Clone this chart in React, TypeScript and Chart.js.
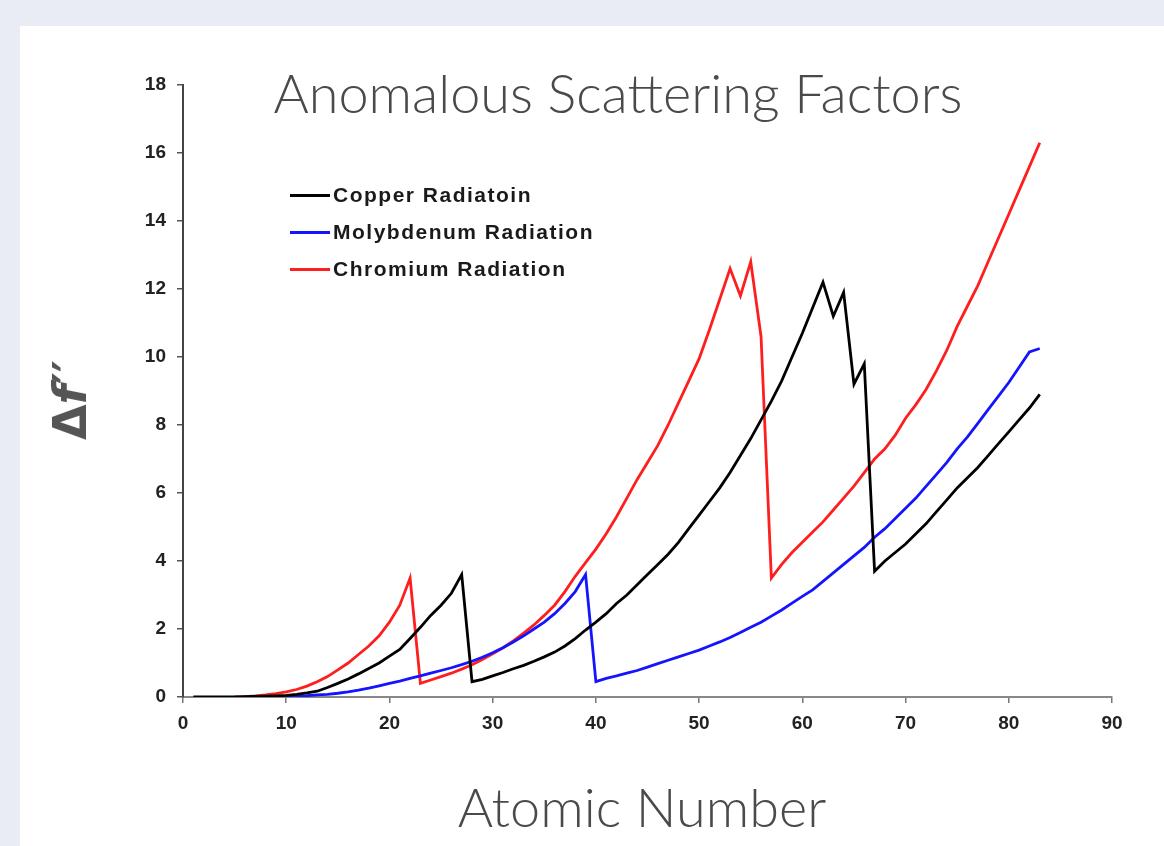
import React, { useEffect, useRef } from "react";
import { Chart, registerables } from "chart.js";

Chart.register(...registerables);

const atomicNumbers = [
  1, 2, 3, 4, 5, 6, 7, 8, 9, 10, 11, 12, 13, 14, 15, 16, 17, 18, 19, 20,
  21, 22, 23, 24, 25, 26, 27, 28, 29, 30, 31, 32, 33, 34, 35, 36, 37, 38, 39, 40,
  41, 42, 43, 44, 45, 46, 47, 48, 49, 50, 51, 52, 53, 54, 55, 56, 57, 58, 59, 60,
  61, 62, 63, 64, 65, 66, 67, 68, 69, 70, 71, 72, 73, 74, 75, 76, 77, 78, 79, 80,
  81, 82, 83,
];

const copper = [
  0, 0, 0, 0, 0.005, 0.01, 0.015, 0.025, 0.035, 0.05,
  0.08, 0.12, 0.17, 0.28, 0.4, 0.53, 0.68, 0.84, 1.0, 1.2,
  1.4, 1.72, 2.05, 2.4, 2.7, 3.05, 3.6, 0.45, 0.52, 0.62,
  0.72, 0.83, 0.93, 1.05, 1.18, 1.32, 1.5, 1.72, 1.97, 2.2,
  2.45, 2.75, 3.0, 3.3, 3.6, 3.9, 4.2, 4.55, 4.95, 5.35,
  5.75, 6.15, 6.6, 7.1, 7.6, 8.15, 8.7, 9.3, 10.0, 10.7,
  11.45, 12.2, 11.2, 11.9, 9.2, 9.8, 3.7, 4.0, 4.25, 4.5,
  4.8, 5.1, 5.45, 5.8, 6.15, 6.45, 6.75, 7.1, 7.45, 7.8,
  8.15, 8.5, 8.9,
];

const molybdenum = [
  null, null, null, null, null, null, null, 0, 0.01, 0.02,
  0.03, 0.04, 0.06, 0.08, 0.11, 0.15, 0.2, 0.26, 0.33, 0.4,
  0.47, 0.55, 0.62, 0.7, 0.78, 0.86, 0.95, 1.05, 1.17, 1.3,
  1.45, 1.62, 1.8, 2.0, 2.2, 2.45, 2.75, 3.1, 3.6, 0.45,
  0.55, 0.62, 0.7, 0.78, 0.88, 0.98, 1.08, 1.18, 1.28, 1.38,
  1.5, 1.62, 1.75, 1.9, 2.05, 2.2, 2.38, 2.56, 2.76, 2.96,
  3.15, 3.4, 3.65, 3.9, 4.15, 4.4, 4.7, 4.95, 5.25, 5.55,
  5.85, 6.2, 6.55, 6.9, 7.3, 7.65, 8.05, 8.45, 8.85, 9.25,
  9.7, 10.15, 10.25,
];

const chromium = [
  null, null, null, null, 0, 0.01, 0.03, 0.06, 0.1, 0.15,
  0.22, 0.32, 0.45, 0.6, 0.8, 1.0, 1.25, 1.5, 1.8, 2.2,
  2.7, 3.5, 0.4, 0.5, 0.6, 0.7, 0.82, 0.95, 1.1, 1.27,
  1.45, 1.65, 1.88, 2.12, 2.4, 2.7, 3.1, 3.55, 3.95, 4.35,
  4.8, 5.3, 5.85, 6.4, 6.9, 7.4, 8.0, 8.65, 9.3, 9.95,
  10.8, 11.7, 12.6, 11.8, 12.8, 10.6, 3.5, 3.9, 4.25, 4.55,
  4.85, 5.15, 5.5, 5.85, 6.2, 6.6, 7.0, 7.3, 7.7, 8.2,
  8.6, 9.05, 9.6, 10.2, 10.9, 11.5, 12.1, 12.8, 13.5, 14.2,
  14.9, 15.6, 16.3,
];

const seriesNames = ["Copper Radiatoin", "Molybdenum Radiation", "Chromium Radiation"];
const seriesColors = ["#000000", "#1414ff", "#ff1e1e"];
const seriesValues = [copper, molybdenum, chromium];

const titleText = "Anomalous Scattering Factors";
const xTitle = "Atomic Number";

const toPoints = (vals: (number | null)[]) =>
  atomicNumbers
    .map((z, i) => ({ x: z, y: vals[i] }))
    .filter((p) => p.y !== null && p.y !== undefined);

export default function App() {
  const ref = useRef<HTMLCanvasElement | null>(null);

  useEffect(() => {
    if (!ref.current) return;
    const chart = new Chart(ref.current, {
      type: "line",
      data: {
        datasets: seriesValues.map((vals, i) => ({
          label: seriesNames[i],
          data: toPoints(vals) as any,
          borderColor: seriesColors[i],
          backgroundColor: seriesColors[i],
          borderWidth: 2.8,
          pointRadius: 0,
          tension: 0,
          fill: false,
        })),
      },
      options: {
        responsive: false,
        animation: false,
        devicePixelRatio: 1,
        layout: { padding: { left: 0, top: 59, right: 52, bottom: 0 } },
        plugins: {
          legend: { display: false },
          title: { display: false },
          tooltip: { enabled: false },
        },
        scales: {
          x: {
            type: "linear",
            min: 0,
            max: 90,
            ticks: {
              stepSize: 10,
              color: "#222",
              padding: 9,
              font: { family: "'Liberation Sans', Arial, sans-serif", size: 19, weight: "bold" },
            },
            grid: {
              drawOnChartArea: false,
              drawTicks: true,
              tickLength: 6,
              color: "#777",
              lineWidth: 1.5,
            },
            border: { display: true, color: "#888", width: 2 },
            afterFit: (s: any) => {
              s.height = 149;
            },
          },
          y: {
            type: "linear",
            min: 0,
            max: 18,
            ticks: {
              stepSize: 2,
              color: "#222",
              padding: 11,
              font: { family: "'Liberation Sans', Arial, sans-serif", size: 19, weight: "bold" },
            },
            grid: {
              drawOnChartArea: false,
              drawTicks: true,
              tickLength: 6,
              color: "#555",
              lineWidth: 1.5,
            },
            border: { display: true, color: "#444", width: 2 },
            afterFit: (s: any) => {
              s.width = 163;
            },
          },
        },
      },
    });
    return () => chart.destroy();
  }, []);

  const bigFont = "Lato, 'Open Sans', 'DejaVu Sans', sans-serif";

  return (
    <div
      style={{
        position: "fixed",
        inset: 0,
        background: "#e9ecf5",
        overflow: "hidden",
      }}
    >
      <div
        style={{
          position: "absolute",
          left: 20,
          top: 26,
          width: 1144,
          height: 820,
          background: "#ffffff",
        }}
      >
        <canvas
          ref={ref}
          width={1144}
          height={820}
          style={{ position: "absolute", left: 0, top: 0, width: 1144, height: 820 }}
        />
        <div
          style={{
            position: "absolute",
            left: 598,
            top: 40,
            transform: "translateX(-50%)",
            fontFamily: bigFont,
            fontWeight: 300,
            fontSize: 54,
            lineHeight: "54px",
            color: "#4a4a4a",
            whiteSpace: "nowrap",
          }}
        >
          {titleText}
        </div>
        <div
          style={{
            position: "absolute",
            left: 622,
            top: 754,
            transform: "translateX(-50%)",
            fontFamily: bigFont,
            fontWeight: 300,
            fontSize: 54,
            lineHeight: "54px",
            color: "#4a4a4a",
            whiteSpace: "nowrap",
          }}
        >
          {xTitle}
        </div>
        <div
          style={{
            position: "absolute",
            left: 50,
            top: 374,
            transform: "translate(-50%, -50%) rotate(-90deg)",
            fontFamily: "'DejaVu Sans', sans-serif",
            fontWeight: "bold",
            fontSize: 46,
            lineHeight: "46px",
            color: "#555555",
            whiteSpace: "nowrap",
          }}
        >
          Δ<i>f</i>′′
        </div>
        {seriesNames.map((name, i) => (
          <div
            key={name}
            style={{
              position: "absolute",
              left: 270,
              top: 169 + i * 37 - 12,
              height: 24,
              display: "flex",
              alignItems: "center",
              whiteSpace: "nowrap",
            }}
          >
            <div
              style={{
                width: 40,
                height: 3,
                background: seriesColors[i],
                marginRight: 3,
              }}
            />
            <span
              style={{
                fontFamily: "'Liberation Sans', Arial, sans-serif",
                fontWeight: "bold",
                fontSize: 21,
                letterSpacing: "1.5px",
                color: "#1a1a1a",
              }}
            >
              {name}
            </span>
          </div>
        ))}
      </div>
    </div>
  );
}
